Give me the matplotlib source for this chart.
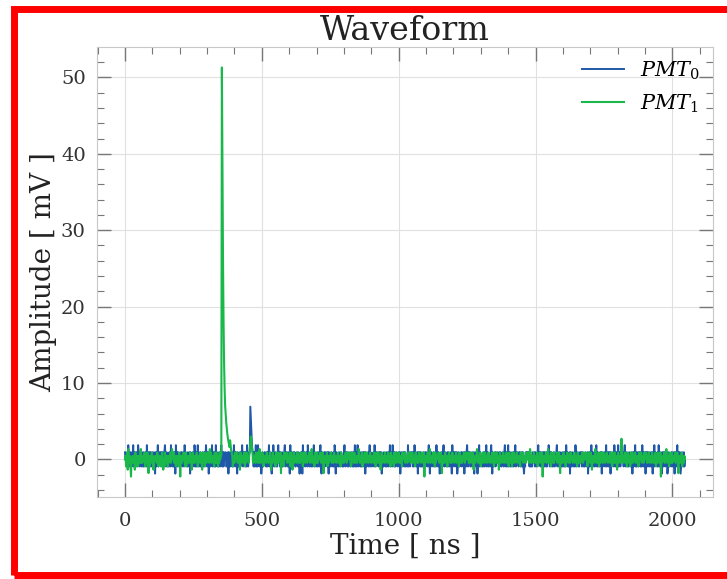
import numpy as np
import matplotlib
matplotlib.use("Agg")
import matplotlib.pyplot as plt
from matplotlib.patches import Rectangle
from matplotlib.ticker import MultipleLocator

# sampling of the digitiser
dt_ns = 2.0

# PMT0 samples as ADC codes ('2' = baseline, one step = lsb_blue mV)
blue_codes = [
    "32213142 31321324 13213312 43123213 21312231 42132313 12321320 31324123",
    "23132321 34213212 13214231 21330423 13221132 31231423 21132130 31223214",
    "31312413 21312231 23124213 30221324 12313142 31213213 42131322 31123031",
    "13221314 23132031 21313242 13231314 21232130 32313124 13142213 20131223",
    "32131324 13220314 21232113 42313213 12234132 31132041 23213231 12321320",
    "21330423 31223142 31221313 24132123 12313420 31223132 23130322 13221314",
    "30312213 21332121 34213231 13221332 13124131 24132213 12313230 31223124",
    "13212231 42132321 32313012 13221312 31324132 14231312 32123130 23213231",
    "31221413 21332313 14231230 32313121 13213132 21342031 32213213 14231320",
    "21331342 13221313 21232041 32313230 13212231 32130321 34213231 12321302",
    "32130324 13221213 31324132 12213420 31223132 23213231 12321342 13124132",
    "13212313 24132321 32312313 10213232 32313121 13223132 21342231 32132313",
    "21313243 13231213 31223413 21331213 12313142 31213032 13221314 21232113",
    "32313212 13221302 31324131 23132413 12213230 31223124 12313230 31223142",
    "13231413 21332321 34213212 13221320 31324131 23132313 14231230 32313213",
    "21330324 13221314 21232031 32313230 13212231 32130321 34213230 12321312",
]
lsb_blue = 0.93

# PMT1 samples as codes ('6' = baseline, one step = lsb_green mV)
green_codes = [
    "67468396 57416675 76385467 47758956 57678457 68527476 58673567 67586475",
    "75468536 48675747 56785697 68576475 67486176 57687548 46757658 67378567",
    "56786476 75867386 57487567 86596857 67548658 57475867 58672576 87567586",
    "76587467 58676857 67385676 57847586 76575847 86576758 67586596 57687467",
    "67586757 68536586 75748578 56768276 57486768 57675847 86376857 67586757",
    "58676486 75867567 68576957 67486758 57676857 68527567 58476576 87567586",
    "67576857 67486576 57687586 76875458 67586576 57698567 58476586 75867567",
    "86576758 67486578 56736857 67586757 68576486 75748578 56768576 57486768",
    "57675867 86576857 67486757 58676586 75817567 68576957 67586748 57676857",
    "68527567 58676476 87567586 67576857 67486576 57687586 76875658 67586376",
    "57698567 58476586 75867567 86576758 67486578 56736857 67586757 68576486",
    "75748578 56768576 57486768 57675867 86579857 67586757 58476586 75817567",
    "68576957 67486758 57676857 68527567 58676476 87567586 67576857 67486576",
    "57687586 76875458 67586376 57698567 58476586 75867567 86576758 67486578",
    "56736857 675C6757 68576486 75748578 56768576 57486768 57675867 86576857",
    "67586757 58476586 75817567 68576957 67486758 57676857 68527567 58476576",
]
green_levels = "0123456789ABCDE"
lsb_green = 0.45

# pulse samples written over the baseline
green_pulse_ns = [352, 354, 356, 358, 360, 362, 364, 366, 368, 370,
                  372, 374, 376, 378, 380, 382, 384, 386, 388, 390]
green_pulse_mv = [0.6, 51.3, 39.0, 27.0, 18.5, 12.8, 9.2, 7.0, 5.8, 4.8,
                  4.0, 3.3, 2.8, 2.3, 2.0, 1.6, 2.5, 1.8, 1.2, 0.9]
green_bump_ns = [456, 458, 460, 462, 464, 466]
green_bump_mv = [1.1, 2.2, 3.0, 2.3, 1.5, 0.8]
blue_pulse_ns = [456, 458, 460, 462, 464, 466]
blue_pulse_mv = [0.9, 6.9, 5.2, 3.3, 1.9, 1.0]

# decode the traces
blue_str = "".join(blue_codes).replace(" ", "")
green_str = "".join(green_codes).replace(" ", "")
pmt0 = np.array([(int(c) - 2) * lsb_blue for c in blue_str])
pmt1 = np.array([(green_levels.index(c) - 6) * lsb_green for c in green_str])

for ns, mv in zip(green_pulse_ns + green_bump_ns, green_pulse_mv + green_bump_mv):
    pmt1[int(ns / dt_ns)] = mv
for ns, mv in zip(blue_pulse_ns, blue_pulse_mv):
    pmt0[int(ns / dt_ns)] = mv

t0 = np.arange(len(pmt0)) * dt_ns
t1 = np.arange(len(pmt1)) * dt_ns

plt.rcParams["font.family"] = "DejaVu Serif"
plt.rcParams["mathtext.fontset"] = "dejavuserif"

fig = plt.figure(figsize=(7.27, 5.79), dpi=100)
ax = fig.add_axes([0.1334, 0.1416, 0.8473, 0.7772])

ax.plot(t0, pmt0, color="#1f58a8", lw=1.4, label="$PMT_0$")
ax.plot(t1, pmt1, color="#1ab84a", lw=1.5, label="$PMT_1$")

ax.xaxis.set_major_locator(MultipleLocator(500))
ax.xaxis.set_minor_locator(MultipleLocator(100))
ax.yaxis.set_major_locator(MultipleLocator(10))
ax.yaxis.set_minor_locator(MultipleLocator(2))
ax.tick_params(which="both", direction="in", top=True, right=True,
               color="#777777", labelcolor="#333333", labelsize=14)
ax.tick_params(which="major", length=10, width=1.0, pad=8)
ax.tick_params(axis="x", which="major", pad=11)
ax.tick_params(which="minor", length=5, width=0.8)
for sp in ax.spines.values():
    sp.set_color("#c8c8c8")
ax.grid(True, which="major", color="#e0e0e0", lw=0.8)
ax.set_axisbelow(True)

ax.set_title("Waveform", fontsize=24, color="#222222", pad=5)
ax.set_xlabel("Time [ ns ]", fontsize=20, color="#222222", labelpad=2)
ax.set_ylabel("Amplitude [ mV ]", fontsize=20, color="#222222", labelpad=3)

ax.legend(loc="upper right", frameon=False, fontsize=15, handlelength=2.0,
          borderaxespad=0.2)

# red frame around the figure
fig.patches.append(Rectangle((14.5 / 727, 1 - 574.5 / 579), 1.0, 566 / 579,
                             transform=fig.transFigure, fill=False,
                             edgecolor="#ff0000", lw=5, clip_on=False))

fig.savefig("out.png", dpi=100)
